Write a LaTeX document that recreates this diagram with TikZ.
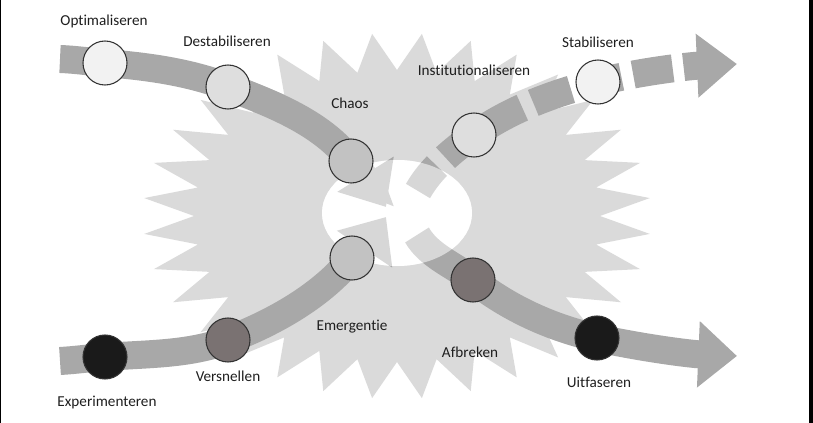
\documentclass[tikz,border=0pt]{standalone}
\usepackage{fontspec}
\setmainfont{Carlito}[Ligatures=NoCommon]
\usepackage{xcolor}
\usetikzlibrary{arrows.meta, backgrounds}

\definecolor{chaosgray}{RGB}{218,218,218}
\definecolor{bandgray}{RGB}{168,168,168}
\definecolor{labelgray}{RGB}{30,30,30}
\definecolor{palefill}{RGB}{242,242,242}
\definecolor{lightfill}{RGB}{222,222,222}
\definecolor{midfill}{RGB}{194,194,194}
\definecolor{brownfill}{RGB}{122,114,114}
\definecolor{darkfill}{RGB}{26,26,26}

\tikzset{
  band/.style={draw=bandgray, line width=21pt, -{Triangle[length=29pt,width=48pt]}},
  dashband/.style={draw=bandgray, line width=21pt, {Triangle[length=30pt,width=46pt]}-,
    dash pattern=on 12pt off 8.25pt on 30pt off 9pt on 30pt off 9pt on 30pt off 9pt on 30pt off 9pt on 30pt off 9pt on 30pt off 9pt},
  phase/.style={circle, draw=black!80, line width=0.8pt, minimum size=33pt, inner sep=0pt},
  lbl/.style={inner sep=0pt, text=labelgray, font=\fontsize{11.4}{13}\selectfont}
}

\begin{document}
\begin{tikzpicture}[x=0.75pt,y=0.75pt,yscale=-1,xscale=1]

    \useasboundingbox (0,0) rectangle (813,423);

    % phases
    \node[phase, fill=palefill] (opt) at (105,63) {};
    \node[phase, fill=lightfill] (destab) at (228,87) {};
    \node[phase, fill=midfill] (chaos) at (351,161) {};
    \node[phase, fill=darkfill] (exper) at (105,357) {};
    \node[phase, fill=brownfill] (versn) at (228,340) {};
    \node[phase, fill=midfill] (emerg) at (352,258) {};
    \node[phase, fill=lightfill] (instit) at (474,135) {};
    \node[phase, fill=palefill] (stabil) at (598,82) {};
    \node[phase, fill=brownfill] (afbr) at (473,280) {};
    \node[phase, fill=darkfill] (uitf) at (597,338) {};

    \coordinate (optin) at (60,59);
    \coordinate (chaostip) at (386,207);
    \coordinate (experin) at (60,361);
    \coordinate (emergtip) at (386,217);
    \coordinate (institin) at (418,191);
    \coordinate (stabiltip) at (737,64);
    \coordinate (afbrin) at (417,235);
    \coordinate (uitftip) at (737,356);
    \coordinate (core) at (397,213);

    \begin{scope}[on background layer]
        % chaos star with the open core
        \fill[chaosgray] plot[samples at={0,...,63}] ({397+(isodd(\x)?203:254)*cos(5.625*(\x+1))}, {216-(isodd(\x)?146:183)*sin(5.625*(\x+1))}) -- cycle;
        \fill[white] (core) ellipse (75 and 53);

        \draw[band] (optin) .. controls +(15,0.5) and +(-15,-1.2) .. (opt.center) .. controls +(42,3.4) and +(-39,-15) .. (destab.center) .. controls +(45,17) and +(-29,-38) .. (chaos.center) .. controls +(12,15) and +(-10,-16) .. (chaostip);
        \draw[band] (experin) .. controls +(15,-0.8) and +(-15,1) .. (exper.center) .. controls +(41,-3.3) and +(-39,15) .. (versn.center) .. controls +(46,-17.5) and +(-30,37.5) .. (emerg.center) .. controls +(11,-14) and +(-10,15) .. (emergtip);
        \draw[dashband] (stabiltip) .. controls +(-47,2) and +(45,-11) .. (stabil.center) .. controls +(-44,11) and +(37,-26) .. (instit.center) .. controls +(-21,15) and +(13,-23) .. (institin);
        \draw[band] (afbrin) .. controls +(12,21) and +(-19,-15) .. (afbr.center) .. controls +(36,28.5) and +(-45,-10) .. (uitf.center) .. controls +(46,10) and +(-47,-2) .. (uitftip);

        \fill[white, opacity=0.55] (core) ellipse (75 and 53);
    \end{scope}

    % labels
    \node[lbl] (optlbl) at (104,21.5) {Optimaliseren};
    \node[lbl] (destablbl) at (227,41.5) {Destabiliseren};
    \node[lbl] (chaoslbl) at (350,103) {Chaos};
    \node[lbl] (institlbl) at (474,70) {Institutionaliseren};
    \node[lbl] (stabillbl) at (598,42) {Stabiliseren};
    \node[lbl] (experlbl) at (107,402.5) {Experimenteren};
    \node[lbl] (versnlbl) at (228,376) {Versnellen};
    \node[lbl] (emerglbl) at (352,326.5) {Emergentie};
    \node[lbl] (afbrlbl) at (470,352.5) {Afbreken};
    \node[lbl] (uitflbl) at (599,382.5) {Uitfaseren};

    % frame edges
    \draw[line width=0.75pt] (0.5,0) -- (0.5,423);
    \draw[line width=3pt] (811,0) -- (811,423);
\end{tikzpicture}
\end{document}
